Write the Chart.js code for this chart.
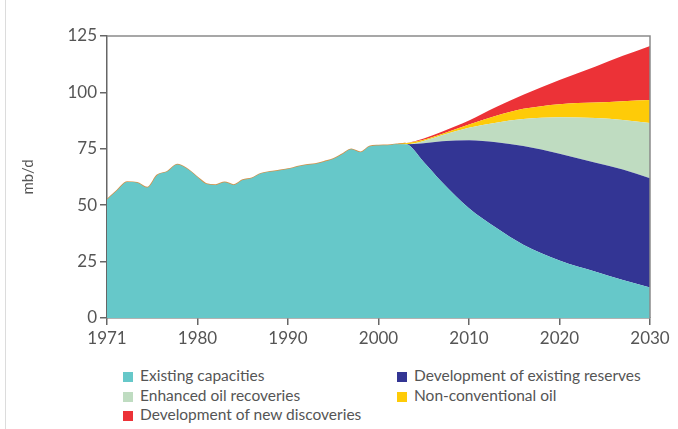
<!DOCTYPE html>
<html>
<head>
<meta charset="utf-8">
<script src="https://cdn.jsdelivr.net/npm/chart.js@4.4.1/dist/chart.umd.min.js"></script>
<style>
  html, body { margin: 0; padding: 0; background: #fff; }
  #wrap { position: relative; width: 678px; height: 429px; overflow: hidden; }
  #edge { position: absolute; left: 5px; top: 0; width: 1px; height: 429px; background: #dcdcdc; }
  #chart-box { position: absolute; left: 0; top: 0; width: 678px; height: 355px; }
  .leg { position: absolute; font-family: Lato, "Noto Sans", sans-serif; font-size: 15.5px; color: #555; white-space: nowrap; line-height: 16px; }
  .leg span { display: inline-block; width: 10px; height: 10px; margin-right: 7px; vertical-align: -1px; }
</style>
</head>
<body>
<div id="wrap">
  <div id="edge"></div>
  <div id="chart-box"><canvas id="supply-chart" width="678" height="355"></canvas></div>
  <div id="legend"></div>
</div>
<script>
// years: history is annual, the outlook part every few years
const years = [1971, 1972, 1973, 1974, 1975, 1976, 1977, 1978, 1979, 1980,
  1981, 1982, 1983, 1984, 1985, 1986, 1987, 1988, 1989, 1990,
  1991, 1992, 1993, 1994, 1995, 1996, 1997, 1998, 1999, 2000,
  2001, 2002, 2003, 2005, 2007, 2010, 2013, 2016, 2020, 2024, 2027, 2030];

const existingCapacities = [52.5, 56.5, 60.3, 60.0, 57.8, 63.3, 64.9, 68.0, 66.0, 62.4,
  59.4, 59.0, 60.2, 59.0, 61.2, 62.0, 64.0, 64.8, 65.4, 66.0,
  67.0, 67.8, 68.3, 69.3, 70.5, 72.6, 74.8, 73.5, 76.0, 76.5,
  76.6, 77.0, 77.0, 69.2, 60.3, 48.6, 40.0, 32.5, 25.5, 20.5, 16.8, 13.5];

const existingReserves = new Array(32).fill(0).concat(
  [0, 8.3, 18.1, 30.2, 37.9, 43.7, 47.3, 48.3, 49.0, 48.5]);
const enhancedRecovery = new Array(32).fill(0).concat(
  [0, 1.0, 2.6, 5.5, 8.7, 12.0, 16.2, 19.9, 22.0, 24.4]);
const nonConventional = new Array(32).fill(0).concat(
  [0.5, 0.5, 0.6, 1.5, 3.0, 4.5, 5.8, 6.8, 8.3, 10.2]);
const newDiscoveries = new Array(32).fill(0).concat(
  [0, 0.6, 1.0, 1.7, 3.9, 6.3, 10.7, 16.0, 20.1, 24.0]);

const tickYears = [1971, 1980, 1990, 2000, 2010, 2020, 2030];
const yTicks = [0, 25, 50, 75, 100, 125];

// the axis puts 1971..1980 in the same width as every later decade
function axisPos(year) {
  return year < 1980 ? (year - 1971) * 10 / 9 : year - 1970;
}

function toPoints(values) {
  return years.map((yr, i) => ({ x: axisPos(yr), y: values[i] }));
}

const series = [
  { name: 'Existing capacities', data: existingCapacities, color: '#66c8c9' },
  { name: 'Development of existing reserves', data: existingReserves, color: '#333594' },
  { name: 'Enhanced oil recoveries', data: enhancedRecovery, color: '#bfdcc1' },
  { name: 'Non-conventional oil', data: nonConventional, color: '#fecb08' },
  { name: 'Development of new discoveries', data: newDiscoveries, color: '#ec3237' }
];

const histEnd = axisPos(2003);
const FONT = 'Lato, "Noto Sans", sans-serif';

const frame = {
  id: 'frame',
  afterDatasetsDraw(chart) {
    const a = chart.chartArea;
    const ctx = chart.ctx;
    ctx.save();
    ctx.strokeStyle = '#8a8a8a';
    ctx.lineWidth = 1.5;
    ctx.beginPath();
    ctx.moveTo(a.left, a.top);
    ctx.lineTo(a.right, a.top);
    ctx.lineTo(a.right, a.bottom);
    ctx.stroke();
    ctx.restore();
  }
};

const datasets = series.map((s, i) => ({
  label: s.name,
  data: toPoints(s.data),
  backgroundColor: s.color,
  borderColor: s.color,
  borderWidth: i === series.length - 1 ? 1.5 : 0,
  segment: i === series.length - 1 ? {
    borderColor: c => c.p1.parsed.x <= histEnd + 0.01 ? '#d4924a' : 'rgba(0,0,0,0)'
  } : undefined,
  fill: i === 0 ? 'origin' : '-1',
  pointRadius: 0,
  cubicInterpolationMode: 'monotone'
}));

new Chart(document.getElementById('supply-chart'), {
  type: 'line',
  data: { datasets: datasets },
  plugins: [frame],
  options: {
    responsive: false,
    animation: false,
    layout: { padding: { top: 36, right: 28, left: 0, bottom: 0 } },
    plugins: { legend: { display: false }, tooltip: { enabled: false } },
    scales: {
      x: {
        type: 'linear',
        min: 0,
        max: 60,
        afterBuildTicks: sc => { sc.ticks = tickYears.map(y => ({ value: axisPos(y) })); },
        afterFit: sc => { sc.height = 37; },
        ticks: {
          callback: v => String(tickYears.find(y => axisPos(y) === v)),
          color: '#555',
          font: { family: FONT, size: 17 },
          padding: 3,
          maxRotation: 0
        },
        grid: { drawOnChartArea: false, drawTicks: true, tickLength: 7, color: '#666', lineWidth: 1.5 },
        border: { color: '#666', width: 1.5 }
      },
      y: {
        stacked: true,
        min: 0,
        max: 125,
        afterBuildTicks: sc => { sc.ticks = yTicks.map(v => ({ value: v })); },
        afterFit: sc => { sc.width = 107; },
        ticks: {
          color: '#555',
          font: { family: FONT, size: 17 },
          padding: 3
        },
        grid: { drawOnChartArea: false, drawTicks: true, tickLength: 7, color: '#666', lineWidth: 1.5 },
        border: { color: '#666', width: 1.5 },
        title: {
          display: true,
          text: 'mb/d',
          color: '#555',
          font: { family: FONT, size: 15 },
          padding: { top: 19 }
        }
      }
    }
  }
});

// two-column legend under the plot
const legendSpots = [
  { left: 123, top: 367 }, { left: 397, top: 367 },
  { left: 123, top: 387 }, { left: 397, top: 387 },
  { left: 123, top: 406 }
];
const legendOrder = [0, 1, 2, 3, 4];
const legend = document.getElementById('legend');
legendOrder.forEach((idx, k) => {
  const d = document.createElement('div');
  d.className = 'leg';
  d.style.left = legendSpots[k].left + 'px';
  d.style.top = legendSpots[k].top + 'px';
  d.innerHTML = '<span style="background:' + series[idx].color + '"></span>' + series[idx].name;
  legend.appendChild(d);
});
</script>
</body>
</html>
